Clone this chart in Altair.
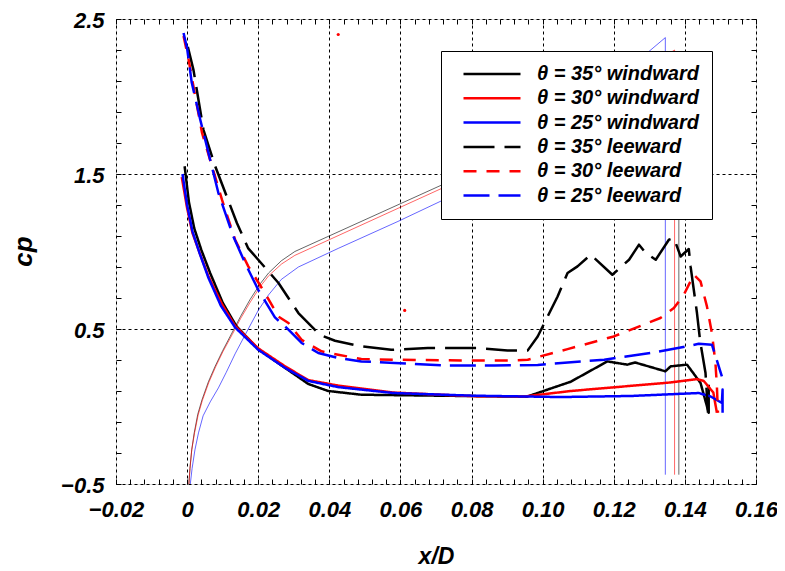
import altair as alt
import pandas as pd

FONT = "Liberation Sans"

# axis ranges / ticks
x_domain = [-0.02, 0.16]
y_domain = [-0.5, 2.5]
x_major = [-0.02, 0.0, 0.02, 0.04, 0.06, 0.08, 0.10, 0.12, 0.14, 0.16]
y_major = [-0.5, 0.5, 1.5, 2.5]
x_minor = [round(-0.02 + 0.004 * i, 3) for i in range(46)]
y_minor = [round(-0.5 + 0.2 * i, 1) for i in range(16)]

# series
series_names = ["θ = 35° windward", "θ = 30° windward", "θ = 25° windward",
                "θ = 35° leeward", "θ = 30° leeward", "θ = 25° leeward"]
series_colors = ["#000000", "#ff0000", "#0000ff", "#000000", "#ff0000", "#0000ff"]
series_dashes = [[1, 0], [1, 0], [1, 0], [31, 10], [13, 10], [26, 9]]

w35_x = [-0.0007, 0.0005, 0.002, 0.004, 0.0065, 0.010, 0.0138, 0.020, 0.0275, 0.0341, 0.0397, 0.049,
         0.07, 0.0955, 0.1079, 0.1182, 0.1238, 0.126, 0.1345, 0.136, 0.1406, 0.1444, 0.1467, 0.1467]
w35_y = [1.55, 1.32, 1.15, 1.01, 0.86, 0.67, 0.52, 0.37, 0.25, 0.145, 0.10, 0.076,
         0.07, 0.063, 0.16, 0.291, 0.27, 0.284, 0.227, 0.259, 0.27, 0.152, -0.04, 0.14]

w30_x = [-0.0015, 0.0, 0.0015, 0.0037, 0.006, 0.0098, 0.0135, 0.020, 0.0275, 0.0341, 0.0425, 0.058,
         0.08, 0.095, 0.1079, 0.1359, 0.1434, 0.1453, 0.148, 0.149]
w30_y = [1.48, 1.28, 1.12, 0.98, 0.84, 0.66, 0.52, 0.375, 0.26, 0.17, 0.135, 0.09,
         0.067, 0.065, 0.10, 0.155, 0.177, 0.165, 0.09, -0.04]

w25_x = [-0.0013, 0.0, 0.0015, 0.0035, 0.006, 0.0095, 0.0135, 0.020, 0.0275, 0.0341, 0.0425, 0.058,
         0.08, 0.105, 0.125, 0.1439, 0.1472, 0.1504, 0.1506, 0.1506]
w25_y = [1.5, 1.3, 1.13, 0.99, 0.83, 0.65, 0.51, 0.366, 0.25, 0.165, 0.125, 0.087,
         0.07, 0.061, 0.068, 0.087, 0.065, 0.023, 0.11, -0.04]

l35_x = [0.0002, 0.0018, 0.0046, 0.0079, 0.014, 0.0172, 0.020, 0.0257, 0.0313, 0.0373, 0.0416, 0.049,
         0.0574, 0.0677, 0.0817, 0.0901, 0.0958, 0.0986, 0.1042, 0.107, 0.1098, 0.1135, 0.1196, 0.1243,
         0.1271, 0.129, 0.1318, 0.1355, 0.1369, 0.1388, 0.1411, 0.1416, 0.1434, 0.1443, 0.1458, 0.1465]
l35_y = [2.32, 2.17, 1.785, 1.55, 1.184, 1.02, 0.947, 0.797, 0.603, 0.463, 0.424, 0.388,
         0.366, 0.377, 0.377, 0.362, 0.362, 0.452, 0.71, 0.861, 0.904, 0.979, 0.85, 0.947,
         1.044, 0.99, 0.947, 1.076, 1.087, 0.968, 1.016, 0.904, 0.603, 0.42, 0.216, -0.04]

l30_x = [-0.001, 0.0004, 0.0023, 0.0042, 0.007, 0.0098, 0.0135, 0.0172, 0.0219, 0.0257, 0.0285, 0.0322,
         0.0378, 0.0425, 0.049, 0.0584, 0.0771, 0.0911, 0.0958, 0.107, 0.12, 0.1331, 0.1369, 0.1397,
         0.1425, 0.1444, 0.1462, 0.1476, 0.1486, 0.149, 0.1493]
l30_y = [2.39, 2.24, 2.0, 1.765, 1.55, 1.334, 1.076, 0.904, 0.732, 0.58, 0.539, 0.43,
         0.356, 0.334, 0.306, 0.302, 0.297, 0.297, 0.302, 0.37, 0.452, 0.571, 0.635, 0.721,
         0.85, 0.807, 0.646, 0.474, 0.28, 0.13, -0.04]

l25_x = [-0.001, 0.0, 0.0013, 0.0037, 0.0065, 0.0088, 0.013, 0.0163, 0.020, 0.0247, 0.0285, 0.0322,
         0.0369, 0.0425, 0.049, 0.0584, 0.0724, 0.0864, 0.0986, 0.1173, 0.1304, 0.1406, 0.1439, 0.1476, 0.1504]
l25_y = [2.41, 2.31, 2.09, 1.85, 1.59, 1.377, 1.097, 0.926, 0.753, 0.575, 0.496, 0.41,
         0.345, 0.313, 0.291, 0.281, 0.265, 0.265, 0.268, 0.302, 0.345, 0.388, 0.405, 0.399, 0.194]

# thin geometry outlines
g35_x = [0.0005, 0.0008, 0.0013, 0.002, 0.003, 0.0042, 0.006, 0.0079, 0.010, 0.0126, 0.015, 0.0177,
         0.0205, 0.0229, 0.0265, 0.0303, 0.0925, 0.1383, 0.1383]
g35_y = [-0.5, -0.4, -0.28, -0.17, -0.05, 0.044, 0.16, 0.26, 0.36, 0.474, 0.58, 0.69,
         0.79, 0.861, 0.94, 1.0, 1.646, 2.19, -0.44]
g30_x = [0.0005, 0.0008, 0.0013, 0.0021, 0.0031, 0.0043, 0.0061, 0.008, 0.0101, 0.0127, 0.0151, 0.0178,
         0.0206, 0.023, 0.0266, 0.0303, 0.091, 0.1371, 0.1371]
g30_y = [-0.5, -0.4, -0.28, -0.17, -0.055, 0.04, 0.155, 0.255, 0.355, 0.465, 0.57, 0.675,
         0.775, 0.845, 0.92, 0.975, 1.61, 2.30, -0.44]
g25_x = [0.0009, 0.0014, 0.0022, 0.0032, 0.0045, 0.0065, 0.0088, 0.011, 0.0135, 0.0165, 0.020, 0.0229,
         0.0265, 0.0313, 0.0425, 0.0593, 0.0911, 0.1345, 0.1345]
g25_y = [-0.5, -0.4, -0.28, -0.17, -0.06, 0.03, 0.12, 0.22, 0.34, 0.47, 0.62, 0.72,
         0.82, 0.90, 1.02, 1.194, 1.539, 2.38, -0.44]

# stray red points
dot_x = [0.0425, 0.0612]
dot_y = [2.40, 0.62]

series_data = [(w35_x, w35_y), (w30_x, w30_y), (w25_x, w25_y),
               (l35_x, l35_y), (l30_x, l30_y), (l25_x, l25_y)]
rows = []
for name, (xs, ys) in zip(series_names, series_data):
    for i, (xv, yv) in enumerate(zip(xs, ys)):
        rows.append({"series": name, "x": xv, "y": yv, "i": i})
df_main = pd.DataFrame(rows)


def geo_df(xs, ys):
    return pd.DataFrame({"x": xs, "y": ys, "i": list(range(len(xs)))})


df_dots = pd.DataFrame({"x": dot_x, "y": dot_y})

xscale = alt.Scale(domain=x_domain, nice=False, zero=False)
yscale = alt.Scale(domain=y_domain, nice=False, zero=False)

label_style = dict(labelFont=FONT, labelFontSize=22, labelFontStyle="italic",
                   labelFontWeight="bold", labelColor="black")

x_axis_main = alt.Axis(values=x_major, labelExpr="datum.value == 0 ? '0' : format(datum.value, '.2f')",
                       grid=True, gridColor="black", gridDash=[3, 3], gridWidth=1, gridOpacity=1,
                       ticks=False, domain=False, labelPadding=15, labelFlush=False,
                       title="x/D", titleFont=FONT, titleFontSize=23, titleFontStyle="italic",
                       titleFontWeight="bold", titleColor="black", titleY=72,
                       titleBaseline="middle", **label_style)
y_axis_main = alt.Axis(values=y_major, format=".1f", labelOffset=1,
                       grid=True, gridColor="black", gridDash=[3, 3], gridWidth=1, gridOpacity=1,
                       ticks=False, domain=False, labelPadding=12, labelFlush=False,
                       title="cp", titleFont=FONT, titleFontSize=26, titleFontStyle="italic",
                       titleFontWeight="bold", titleColor="black", titleX=-93, titleY=232,
                       titleAlign="center", titleBaseline="middle", **label_style)


def tick_axis(orient, vals):
    return alt.Axis(orient=orient, values=vals, offset=-5, tickSize=5, tickColor="black",
                    tickWidth=1, labels=False, domain=False, grid=False, title=None)


leg = alt.Legend(title=None, orient="none", legendX=325, legendY=32,
                 symbolType="M-5.7,0L5.7,0", symbolSize=100, symbolStrokeWidth=2.5,
                 labelFont=FONT, labelFontSize=20, labelFontStyle="italic",
                 labelFontWeight="bold", labelColor="black", labelOffset=35, labelLimit=400,
                 padding=13, symbolOffset=28, rowPadding=4.3,
                 fillColor="white", strokeColor="black", cornerRadius=0)

main = alt.Chart(df_main).mark_line(strokeWidth=2.5, strokeCap="butt", strokeJoin="round", clip=True).encode(
    x=alt.X("x:Q", scale=xscale, axis=x_axis_main),
    y=alt.Y("y:Q", scale=yscale, axis=y_axis_main),
    color=alt.Color("series:N", scale=alt.Scale(domain=series_names, range=series_colors), legend=leg),
    strokeDash=alt.StrokeDash("series:N", scale=alt.Scale(domain=series_names, range=series_dashes), legend=leg),
    order=alt.Order("i:Q"),
)

thin_k = alt.Chart(geo_df(g35_x, g35_y)).mark_line(strokeWidth=1, color="#000000", opacity=0.6, clip=True).encode(
    x=alt.X("x:Q", scale=xscale, axis=tick_axis("bottom", x_minor)),
    y=alt.Y("y:Q", scale=yscale, axis=tick_axis("left", y_minor)),
    order=alt.Order("i:Q"),
)
thin_r = alt.Chart(geo_df(g30_x, g30_y)).mark_line(strokeWidth=1, color="#ff0000", opacity=0.6, clip=True).encode(
    x=alt.X("x:Q", scale=xscale, axis=tick_axis("top", x_minor)),
    y=alt.Y("y:Q", scale=yscale, axis=tick_axis("right", y_minor)),
    order=alt.Order("i:Q"),
)
thin_b = alt.Chart(geo_df(g25_x, g25_y)).mark_line(strokeWidth=1, color="#0000ff", opacity=0.6, clip=True).encode(
    x=alt.X("x:Q", scale=xscale, axis=None),
    y=alt.Y("y:Q", scale=yscale, axis=None),
    order=alt.Order("i:Q"),
)
dots = alt.Chart(df_dots).mark_circle(color="#ff0000", size=10, opacity=1).encode(
    x=alt.X("x:Q", scale=xscale, axis=None),
    y=alt.Y("y:Q", scale=yscale, axis=None),
)

chart = alt.layer(thin_k, thin_r, thin_b, main, dots).resolve_axis(
    x="independent", y="independent"
).properties(
    width=640, height=465,
    autosize=alt.AutoSizeParams(type="none"),
    padding={"left": 108, "top": 11, "right": 21, "bottom": 84},
).configure_view(stroke="black", strokeWidth=1.8).configure(background="white")

chart.save("out.html", embed_options={"renderer": "svg", "actions": False})
